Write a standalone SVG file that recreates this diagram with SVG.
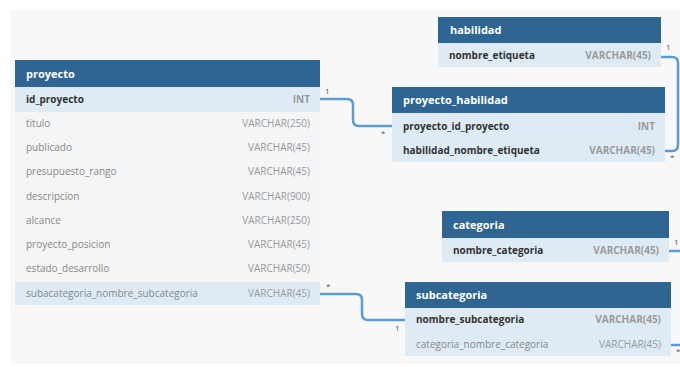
<svg xmlns="http://www.w3.org/2000/svg" width="680" height="367" viewBox="0 0 680 367">
<style>
.hd{fill:#2f6592}
.hl{fill:#deebf5}
.bd{fill:#f4f5f6}
.ht{font-family:"Open Sans","DejaVu Sans",sans-serif;font-size:11px;font-weight:bold;fill:#ffffff}
.kn{font-family:"Open Sans","DejaVu Sans",sans-serif;font-size:10px;font-weight:bold;fill:#333333}
.kt{font-family:"Open Sans","DejaVu Sans",sans-serif;font-size:10px;font-weight:bold;fill:#9a9a9a;text-anchor:end}
.n{font-family:"Open Sans","DejaVu Sans",sans-serif;font-size:10px;fill:#888888}
.t{font-family:"Open Sans","DejaVu Sans",sans-serif;font-size:10px;fill:#999999;text-anchor:end}
.c{fill:none;stroke:#5a9bd3;stroke-width:2.5}
.lb{font-family:"Open Sans","DejaVu Sans",sans-serif;font-size:8px;fill:#555555}
</style>
<rect x="0" y="0" width="680" height="367" fill="#ffffff"/>
<rect x="10" y="10" width="670" height="354" fill="#f8f8f8"/>

<g id="connectors">
<path class="c" d="M320,99 H347 Q353,99 353,105 V120 Q353,126 359,126 H392"/>
<path class="c" d="M661,57 H672 Q678,57 678,63 V145 Q678,151 672,151 H665"/>
<path class="c" d="M669,251 H680"/>
<path class="c" d="M671,345 H680"/>
<path class="c" d="M320,294 H356 Q362,294 362,300 V314 Q362,320 368,320 H405"/>
<text class="lb" x="325" y="94">1</text>
<text class="lb" x="381" y="136">*</text>
<text class="lb" x="666" y="50">1</text>
<text class="lb" x="670" y="160">*</text>
<text class="lb" x="674" y="245">1</text>
<text class="lb" x="676" y="354">*</text>
<text class="lb" x="326" y="289">*</text>
<text class="lb" x="395" y="331">1</text>
</g>

<g id="proyecto">
<rect class="bd" x="15" y="87" width="305" height="218"/>
<rect class="hd" x="15" y="60" width="305" height="27"/>
<text class="ht" x="26" y="78">proyecto</text>
<rect class="hl" x="15" y="87" width="305" height="25"/>
<text class="kn" x="26" y="103">id_proyecto</text>
<text class="kt" x="310" y="103">INT</text>
<text class="n" x="26" y="127">titulo</text>
<text class="t" x="310" y="127">VARCHAR(250)</text>
<text class="n" x="26" y="151">publicado</text>
<text class="t" x="310" y="151">VARCHAR(45)</text>
<text class="n" x="26" y="175">presupuesto_rango</text>
<text class="t" x="310" y="175">VARCHAR(45)</text>
<text class="n" x="26" y="200">descripcion</text>
<text class="t" x="310" y="200">VARCHAR(900)</text>
<text class="n" x="26" y="224">alcance</text>
<text class="t" x="310" y="224">VARCHAR(250)</text>
<text class="n" x="26" y="248">proyecto_posicion</text>
<text class="t" x="310" y="248">VARCHAR(45)</text>
<text class="n" x="26" y="272">estado_desarrollo</text>
<text class="t" x="310" y="272">VARCHAR(50)</text>
<rect class="hl" x="15" y="282" width="305" height="23"/>
<text class="n" x="26" y="297">subacategoria_nombre_subcategoria</text>
<text class="t" x="310" y="297">VARCHAR(45)</text>
</g>

<g id="habilidad">
<rect class="hd" x="438" y="17" width="223" height="26"/>
<text class="ht" x="450" y="34">habilidad</text>
<rect class="hl" x="438" y="43" width="223" height="24"/>
<text class="kn" x="449" y="59">nombre_etiqueta</text>
<text class="kt" x="651" y="59">VARCHAR(45)</text>
</g>

<g id="proyecto_habilidad">
<rect class="hd" x="392" y="87" width="273" height="26"/>
<text class="ht" x="403" y="104">proyecto_habilidad</text>
<rect class="hl" x="392" y="113" width="273" height="49"/>
<text class="kn" x="403" y="130">proyecto_id_proyecto</text>
<text class="kt" x="655" y="130">INT</text>
<text class="kn" x="403" y="154">habilidad_nombre_etiqueta</text>
<text class="kt" x="655" y="154">VARCHAR(45)</text>
</g>

<g id="categoria">
<rect class="hd" x="442" y="211" width="227" height="27"/>
<text class="ht" x="453" y="229">categoria</text>
<rect class="hl" x="442" y="238" width="227" height="24"/>
<text class="kn" x="453" y="254">nombre_categoria</text>
<text class="kt" x="659" y="254">VARCHAR(45)</text>
</g>

<g id="subcategoria">
<rect class="hd" x="405" y="282" width="266" height="26"/>
<text class="ht" x="416" y="299">subcategoria</text>
<rect class="hl" x="405" y="308" width="266" height="48"/>
<text class="kn" x="416" y="323">nombre_subcategoria</text>
<text class="kt" x="661" y="323">VARCHAR(45)</text>
<text class="n" x="416" y="348">categoria_nombre_categoria</text>
<text class="t" x="661" y="348">VARCHAR(45)</text>
</g>
</svg>
